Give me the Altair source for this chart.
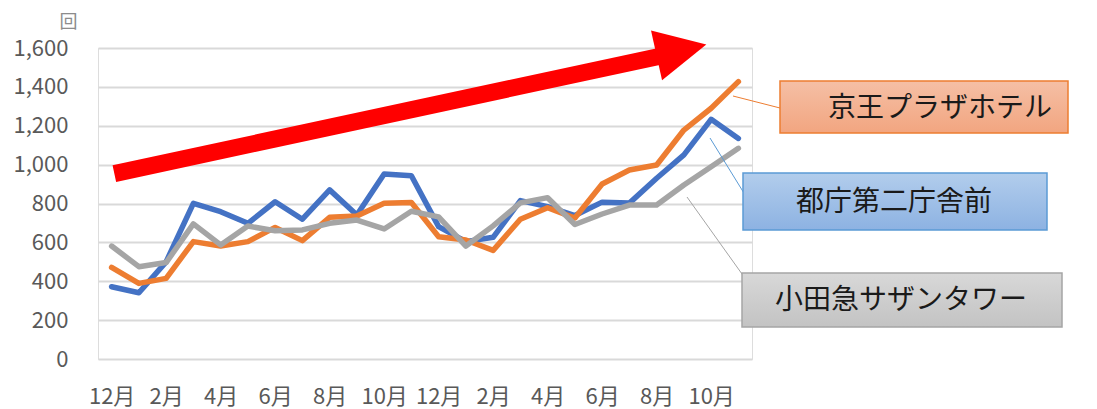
import json
import altair as alt
import pandas as pd

# ---------------- data ----------------
months = ["12月", "1月", "2月", "3月", "4月", "5月", "6月", "7月", "8月", "9月", "10月", "11月",
          "12月", "1月", "2月", "3月", "4月", "5月", "6月", "7月", "8月", "9月", "10月", "11月"]

tocho = [372, 341, 500, 801, 758, 698, 809, 719, 870, 741, 952, 943,
         681, 604, 626, 815, 784, 738, 807, 802, 930, 1050, 1233, 1135]
keio = [471, 389, 415, 604, 581, 604, 677, 609, 729, 736, 801, 805,
        629, 612, 559, 719, 778, 725, 900, 972, 998, 1178, 1290, 1427]
odakyu = [581, 475, 496, 695, 587, 684, 660, 664, 698, 715, 669, 760,
          731, 581, 685, 803, 830, 692, 746, 792, 792, 895, 989, 1084]

series_names = ["都庁第二庁舎前", "京王プラザホテル", "小田急サザンタワー"]
series_colors = ["#4472c4", "#ed7d31", "#a5a5a5"]
y_ticks = [0, 200, 400, 600, 800, 1000, 1200, 1400, 1600]
x_ticks = list(range(0, 24, 2))
unit_label = "回"

# trend arrow (annotation, in data units)
arrow_x = [0.1, 20.3]
arrow_y = [954, 1563]
arrow_head_x = [20.91]
arrow_head_y = [1590]

# ---------------- build ----------------
frames = []
for name, vals in zip(series_names, [tocho, keio, odakyu]):
    frames.append(pd.DataFrame({"idx": list(range(len(vals))), "month": months,
                                "count": vals, "series": name}))

label_expr = json.dumps(months, ensure_ascii=False) + "[datum.value]"

x_enc = alt.X("idx:Q",
              scale=alt.Scale(domain=[-0.5, 23.5], nice=False, zero=False),
              axis=alt.Axis(values=x_ticks, labelExpr=label_expr, grid=False, ticks=False,
                            domain=False, labelFontSize=22, labelColor="#595959",
                            labelPadding=27, title=None, labelFlush=False, labelOverlap=False))
y_enc = alt.Y("count:Q",
              scale=alt.Scale(domain=[0, 1600], nice=False),
              axis=alt.Axis(values=y_ticks, labelExpr="format(datum.value, ',d')",
                            grid=True, gridColor="#d9d9d9",
                            gridWidth=2, domain=False, ticks=False, labelFontSize=22,
                            labelColor="#595959", labelPadding=30, title=unit_label,
                            titleAngle=0, titleX=-30, titleY=-26, titleAlign="center",
                            titleBaseline="middle", titleFontSize=18,
                            titleFontWeight="normal", titleColor="#8c8c8c"))

layers = []
for df, color in zip(frames, series_colors):
    layers.append(alt.Chart(df).mark_line(color=color, strokeWidth=5.5, strokeJoin="round",
                                          strokeCap="round").encode(x=x_enc, y=y_enc))

arrow_df = pd.DataFrame({"idx": arrow_x, "count": arrow_y})
arrow_shaft = alt.Chart(arrow_df).mark_line(color="#ff0000", strokeWidth=17,
                                            strokeCap="butt").encode(x=x_enc, y=y_enc)
head_df = pd.DataFrame({"idx": arrow_head_x, "count": arrow_head_y})
arrow_head = alt.Chart(head_df).mark_point(shape="M-1,-1L1,0L-1,1Z", filled=True,
                                           color="#ff0000", opacity=1, size=2600,
                                           angle=347.5, strokeWidth=0).encode(x=x_enc, y=y_enc)

one = pd.DataFrame({"a": [0]})


def grad(top, bottom):
    return alt.Gradient(gradient="linear",
                        stops=[alt.GradientStop(color=top, offset=0),
                               alt.GradientStop(color=bottom, offset=1)],
                        x1=0, x2=0, y1=0, y2=1)


def callout(text, box, line, text_pos, fill_top, fill_bottom, stroke):
    rule = alt.Chart(one).mark_rule(color=stroke, strokeWidth=1).encode(
        x=alt.value(line[0]), y=alt.value(line[1]), x2=alt.value(line[2]), y2=alt.value(line[3]))
    rect = alt.Chart(one).mark_rect(fill=grad(fill_top, fill_bottom), stroke=stroke,
                                    strokeWidth=1.5).encode(
        x=alt.value(box[0]), y=alt.value(box[1]), x2=alt.value(box[2]), y2=alt.value(box[3]))
    txt = alt.Chart(one).mark_text(text=text, fontSize=28, color="#1a1a1a", align="center",
                                   baseline="middle").encode(
        x=alt.value(text_pos[0]), y=alt.value(text_pos[1]))
    return [rule, rect, txt]


annot = []
annot += callout(series_names[1], (682, 33, 970, 85), (635, 48, 682, 60), (842, 61),
                 "#f5bfa5", "#f2a580", "#ed7d31")
annot += callout(series_names[0], (645, 125, 949, 182), (612, 90, 649, 150), (796, 155),
                 "#b2cdec", "#8db2e2", "#5b9bd5")
annot += callout(series_names[2], (644, 225, 964, 279), (589, 149, 654, 240), (803, 253),
                 "#d8d8d8", "#c3c3c3", "#a5a5a5")

chart = alt.layer(*layers, arrow_shaft, arrow_head, *annot).properties(
    width=654, height=311,
    padding={"left": 90, "top": 40, "right": 337, "bottom": 50},
    autosize=alt.AutoSizeParams(type="none"),
).configure_view(stroke=None).configure(font="Noto Sans CJK JP")

chart.save("out.html", embed_options={"renderer": "svg", "actions": False})
